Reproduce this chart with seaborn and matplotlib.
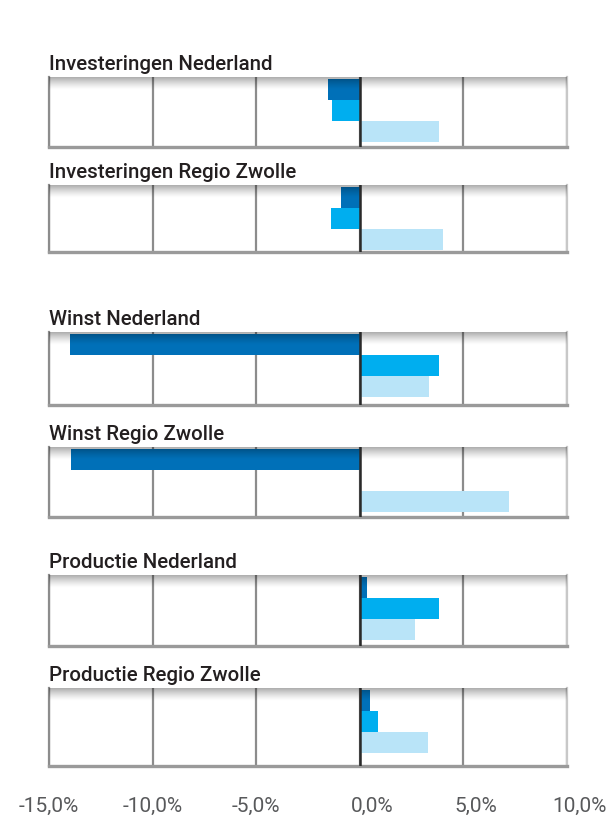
import numpy as np
import pandas as pd
import matplotlib
matplotlib.use("Agg")
import matplotlib.pyplot as plt
import matplotlib.transforms as mtransforms
import seaborn as sns

# data (procentuele verandering)
panels = ["Investeringen Nederland", "Investeringen Regio Zwolle",
          "Winst Nederland", "Winst Regio Zwolle",
          "Productie Nederland", "Productie Regio Zwolle"]
reeksen = ["reeks 1", "reeks 2", "reeks 3"]
donker = [-1.55, -0.9, -14.0, -13.95, 0.35, 0.5]
midden = [-1.35, -1.4, 3.8, 0.0, 3.8, 0.87]
licht = [3.8, 4.0, 3.33, 7.2, 2.65, 3.28]
ticks = [-15, -10, -5, 0, 5, 10]
tick_labels = ["-15,0%", "-10,0%", "-5,0%", "0,0%", "5,0%", "10,0%"]

kleuren = ["#0070b8", "#00aeef", "#b9e4f8"]

# paneel posities in pixels (boven, onder)
W, H = 610, 818
paneel_px = [(77, 147), (185, 252), (332, 405), (447, 517), (575, 646), (688, 766)]
x0, x1 = 49, 567
bar_px = 21

sns.set_style("white")
plt.rcParams["font.family"] = ["Roboto", "DejaVu Sans"]

fig = plt.figure(figsize=(W / 100, H / 100), dpi=100)

for i, titel in enumerate(panels):
    top, bot = paneel_px[i]
    h = bot - top
    ax = fig.add_axes([x0 / W, 1 - bot / H, (x1 - x0) / W, h / H])
    df = pd.DataFrame({"reeks": reeksen,
                       "waarde": [donker[i], midden[i], licht[i]]})
    sns.barplot(data=df, x="waarde", y="reeks", hue="reeks", order=reeksen,
                hue_order=reeksen, palette=kleuren, width=1.0, legend=False,
                orient="h", ax=ax, zorder=2, linewidth=0, saturation=1)
    ytop = -0.5 - 1.5 / bar_px
    ax.set_xlabel("")
    ax.set_ylabel("")
    ax.set_yticks([])
    ax.set_xticks(ticks)
    ax.grid(axis="x", color="#8c8c8c", linewidth=1.6, zorder=1)
    ax.grid(axis="y", visible=False)
    ax.axvline(0, color="#2a2a2a", linewidth=1.8, zorder=4)
    ax.tick_params(axis="x", length=0)
    ax.spines["top"].set_visible(False)
    ax.spines["left"].set_color("#8c8c8c")
    ax.spines["left"].set_linewidth(1.6)
    ax.spines["right"].set_color("#c8c8c8")
    ax.spines["right"].set_linewidth(1.6)
    ax.spines["bottom"].set_color("#9a9a9a")
    ax.spines["bottom"].set_linewidth(2.4)

    # schaduw bovenrand
    grad = np.zeros((40, 1, 4))
    grad[:, 0, 3] = np.linspace(0.42, 0.0, 40) ** 1.3
    ax.imshow(grad, extent=[0, 1, 1 - 13 / h, 1], transform=ax.transAxes,
              aspect="auto", zorder=3, interpolation="bilinear")
    ax.set_xlim(-15, 10)
    ax.set_ylim(ytop + h / bar_px, ytop)

    ax.set_title(titel, loc="left", fontsize=14.8, fontweight="medium",
                 color="#231f20", pad=5)

    if i == len(panels) - 1:
        ax.set_xticklabels(tick_labels, fontsize=15, color="#58595b")
        ax.tick_params(axis="x", pad=22)
        for v, lab in zip(ticks, ax.get_xticklabels()):
            if v >= 0:
                lab.set_transform(lab.get_transform() + mtransforms.ScaledTranslation(
                    12 / 100, 0, fig.dpi_scale_trans))
    else:
        ax.set_xticklabels([])

fig.savefig("out.png", dpi=100)
